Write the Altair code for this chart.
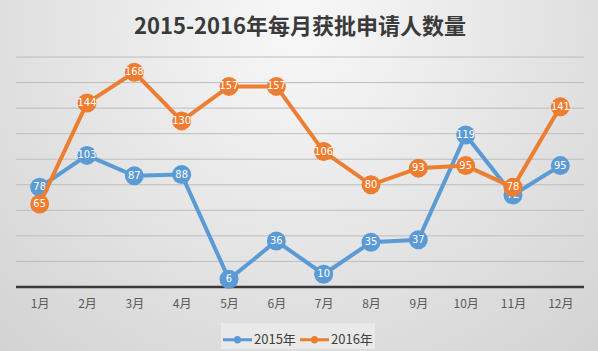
import altair as alt
import pandas as pd

months = ["1月", "2月", "3月", "4月", "5月", "6月", "7月", "8月", "9月", "10月", "11月", "12月"]
series_names = ["2015年", "2016年"]
values_2015 = [78, 103, 87, 88, 6, 36, 10, 35, 37, 119, 72, 95]
values_2016 = [65, 144, 168, 130, 157, 157, 106, 80, 93, 95, 78, 141]
grid_values = [20, 40, 60, 80, 100, 120, 140, 160, 180]
colors = ["#5B9BD5", "#ED7D31"]
title_text = "2015-2016年每月获批申请人数量"

rows = []
for s, vals in zip(series_names, [values_2015, values_2016]):
    for m, v in zip(months, vals):
        rows.append({"month": m, "series": s, "value": v})
df = pd.DataFrame(rows)
grid_df = pd.DataFrame({"value": grid_values})
base_df = pd.DataFrame({"value": [0]})

W, H = 568, 230
PL, PT, PR, PB = 16, 57, 14, 64

x_enc = alt.X("month:N", sort=months, title=None,
              scale=alt.Scale(domain=months),
              axis=alt.Axis(labelAngle=0, ticks=False, domain=False, zindex=1,
                            labelColor="#595959", labelFontSize=12, labelPadding=11,
                            labelFont="Noto Sans CJK SC", grid=False))
y_scale = alt.Scale(domain=[0, 180], nice=False)
y_enc = alt.Y("value:Q", title=None, scale=y_scale, axis=None)

color_scale = alt.Scale(domain=series_names, range=colors)

bg = alt.Chart(alt.Data(values=[{}])).mark_rect(
    color={"gradient": "radial", "x1": 0.5, "y1": 0.25, "x2": 0.5, "y2": 0.25,
           "r1": 0.0, "r2": 0.75,
           "stops": [{"offset": 0, "color": "#f8f8f8"}, {"offset": 1, "color": "#d2d2d2"}]}
).encode(x=alt.value(-PL), x2=alt.value(W + PR), y=alt.value(-PT), y2=alt.value(H + PB))

grid = alt.Chart(grid_df).mark_rule(color="#bdbdbd", strokeWidth=1).encode(
    y=alt.Y("value:Q", scale=y_scale, axis=None), x=alt.value(0), x2=alt.value(W))
baseline = alt.Chart(base_df).mark_rule(color="#3a3a3a", strokeWidth=2.5).encode(
    y=alt.Y("value:Q", scale=y_scale, axis=None), x=alt.value(0), x2=alt.value(W))

legend_path = ("M-1,-0.11H1V0.11H-1Z "
               "M0.26,0A0.26,0.26 0 1,1 -0.26,0A0.26,0.26 0 1,1 0.26,0Z")

layers = [bg, grid, baseline]
for i, s in enumerate(series_names):
    base = alt.Chart(df).transform_filter(alt.datum.series == s)
    line = base.mark_line(strokeWidth=4, color=colors[i]).encode(x=x_enc, y=y_enc)
    pts = base.mark_circle(size=360, opacity=1).encode(
        x=x_enc, y=y_enc,
        color=alt.Color("series:N", scale=color_scale, title=None,
                        legend=alt.Legend(orient="none", legendX=205, legendY=266, direction="horizontal",
                                          symbolType=legend_path, symbolSize=841, symbolStrokeWidth=0,
                                          symbolOpacity=1, labelFontSize=13, labelColor="#404040",
                                          labelFont="Noto Sans CJK SC", labelOffset=2, columnPadding=4,
                                          fillColor="#e9e9e9", padding=2, zindex=1)))
    txt = base.mark_text(color="white", fontSize=11, font="Liberation Sans Narrow, DejaVu Sans Condensed, sans-serif",
                         baseline="middle", align="center").encode(x=x_enc, y=y_enc, text="value:Q")
    layers += [line, pts, txt]

chart = alt.layer(*layers).properties(
    width=W, height=H,
    title=alt.TitleParams(title_text, fontSize=22, font="Noto Sans CJK SC", fontWeight="bold",
                          color="#3a3a3a", anchor="middle", offset=0, dy=39, zindex=1),
    autosize=alt.AutoSizeParams(type="none"),
    padding={"left": PL, "top": PT, "right": PR, "bottom": PB},
).configure(background="#dcdcdc").configure_view(stroke=None)

chart.save("out.html", embed_options={"renderer": "svg", "actions": False})
